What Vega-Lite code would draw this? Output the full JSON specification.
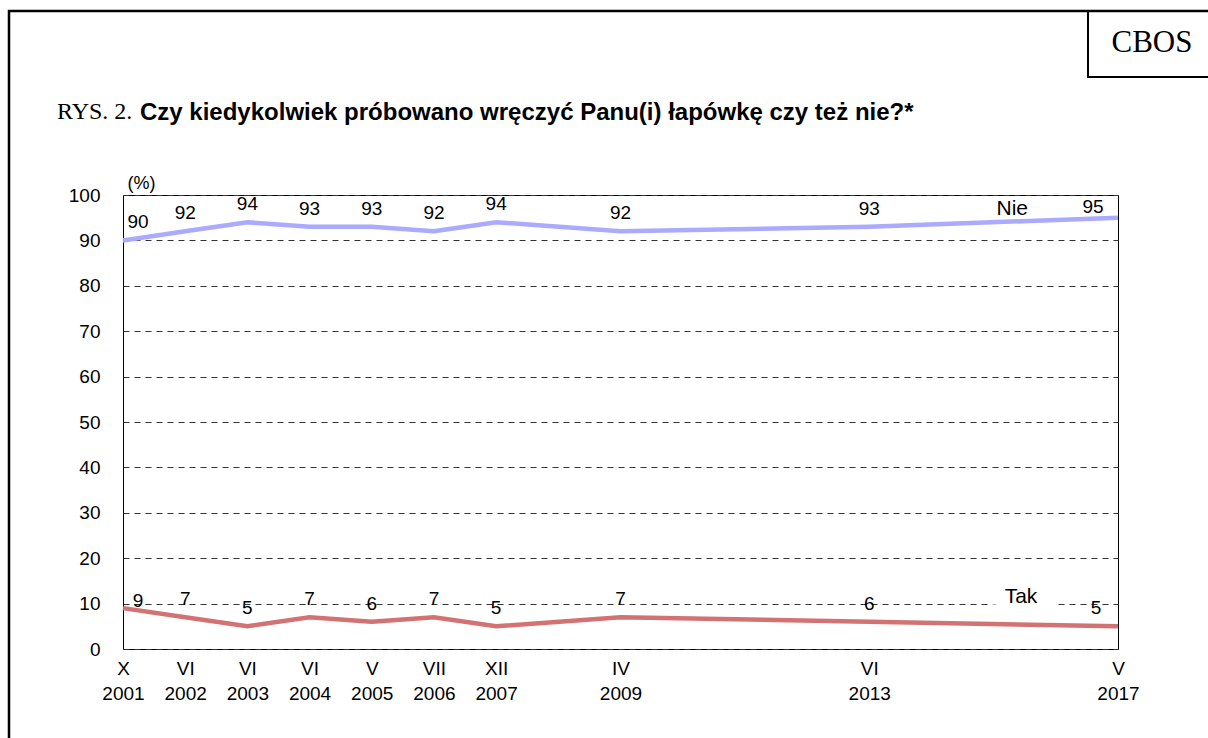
{
  "$schema": "https://vega.github.io/schema/vega-lite/v6.json",
  "width": 995,
  "height": 454,
  "autosize": "none",
  "padding": {"left": 123, "top": 195, "right": 90, "bottom": 89},
  "background": "white",
  "config": {
    "view": {"stroke": "#000", "strokeWidth": 1},
    "font": "Liberation Sans"
  },
  "datasets": {
    "main": [
      {"i": 0, "series": "Nie", "value": 90},
      {"i": 1, "series": "Nie", "value": 92},
      {"i": 2, "series": "Nie", "value": 94},
      {"i": 3, "series": "Nie", "value": 93},
      {"i": 4, "series": "Nie", "value": 93},
      {"i": 5, "series": "Nie", "value": 92},
      {"i": 6, "series": "Nie", "value": 94},
      {"i": 8, "series": "Nie", "value": 92},
      {"i": 12, "series": "Nie", "value": 93},
      {"i": 16, "series": "Nie", "value": 95},
      {"i": 0, "series": "Tak", "value": 9},
      {"i": 1, "series": "Tak", "value": 7},
      {"i": 2, "series": "Tak", "value": 5},
      {"i": 3, "series": "Tak", "value": 7},
      {"i": 4, "series": "Tak", "value": 6},
      {"i": 5, "series": "Tak", "value": 7},
      {"i": 6, "series": "Tak", "value": 5},
      {"i": 8, "series": "Tak", "value": 7},
      {"i": 12, "series": "Tak", "value": 6},
      {"i": 16, "series": "Tak", "value": 5}
    ],
    "serieslabels": [
      {"series": "Nie", "i": 14.3, "value": 96.9},
      {"series": "Tak", "i": 14.44, "value": 11.5}
    ]
  },
  "layer": [
    {
      "data": {"values": [{}]},
      "mark": {"type": "rect", "fill": null, "stroke": "#000", "strokeWidth": 2.5},
      "encoding": {
        "x": {"value": -114}, "x2": {"value": 1100},
        "y": {"value": -184}, "y2": {"value": 560}
      }
    },
    {
      "data": {"values": [{}]},
      "mark": {"type": "rect", "fill": null, "stroke": "#000", "strokeWidth": 2},
      "encoding": {
        "x": {"value": 965}, "x2": {"value": 1100},
        "y": {"value": -184}, "y2": {"value": -118}
      }
    },
    {
      "data": {"values": [{}]},
      "mark": {"type": "text", "text": "CBOS", "font": "Liberation Serif", "fontSize": 31, "align": "center", "baseline": "middle", "color": "#000"},
      "encoding": {"x": {"value": 1029}, "y": {"value": -152}}
    },
    {
      "data": {"values": [{}]},
      "mark": {"type": "text", "text": "RYS. 2.", "font": "Liberation Serif", "fontSize": 24, "align": "left", "baseline": "middle", "color": "#000"},
      "encoding": {"x": {"value": -66}, "y": {"value": -83}}
    },
    {
      "data": {"values": [{}]},
      "mark": {"type": "text", "text": "Czy kiedykolwiek próbowano wręczyć Panu(i) łapówkę czy też nie?*", "font": "Liberation Sans", "fontWeight": "bold", "fontSize": 24, "align": "left", "baseline": "middle", "color": "#000"},
      "encoding": {"x": {"value": 17}, "y": {"value": -82}}
    },
    {
      "data": {"name": "serieslabels"},
      "transform": [{"filter": "datum.series == 'Tak'"}],
      "mark": {"type": "text", "fontSize": 21, "baseline": "middle", "color": "#fff", "stroke": "#fff", "strokeWidth": 28},
      "encoding": {
        "x": {"field": "i", "type": "quantitative"},
        "y": {"field": "value", "type": "quantitative"},
        "text": {"field": "series", "type": "nominal"}
      }
    },
    {
      "data": {"name": "main"},
      "mark": {"type": "line", "strokeWidth": 4.5, "strokeCap": "butt"},
      "encoding": {
        "x": {
          "field": "i", "type": "quantitative",
          "scale": {"domain": [0, 16], "nice": false, "zero": false},
          "axis": {
            "title": null,
            "values": [0, 1, 2, 3, 4, 5, 6, 8, 12, 16],
            "labelExpr": "split(['X|2001','VI|2002','VI|2003','VI|2004','V|2005','VII|2006','XII|2007','','IV|2009','','','','VI|2013','','','','V|2017'][datum.value], '|')",
            "grid": false, "ticks": false, "domain": false,
            "labelFontSize": 19, "labelColor": "#000", "labelFont": "Liberation Sans",
            "labelPadding": 10, "labelLineHeight": 25,
            "labelFlush": false, "labelOverlap": false, "labelBound": false
          }
        },
        "y": {
          "field": "value", "type": "quantitative",
          "scale": {"domain": [0, 100], "nice": false},
          "axis": {
            "title": "(%)", "titleAngle": 0, "titleX": 18, "titleY": -12,
            "titleAlign": "center", "titleBaseline": "middle",
            "titleFontSize": 18, "titleFontWeight": "normal", "titleFont": "Liberation Sans", "titleColor": "#000",
            "values": [0, 10, 20, 30, 40, 50, 60, 70, 80, 90, 100],
            "grid": true, "gridDash": [6, 5], "gridColor": "#333", "gridWidth": 1,
            "ticks": false, "domain": false,
            "labelFontSize": 19, "labelColor": "#000", "labelFont": "Liberation Sans",
            "labelPadding": 23
          }
        },
        "color": {
          "field": "series", "type": "nominal",
          "scale": {"domain": ["Nie", "Tak"], "range": ["#aaaaff", "#d27272"]},
          "legend": null
        }
      }
    },
    {
      "data": {"name": "main"},
      "transform": [{"filter": "datum.i > 0 && datum.i < 16"}],
      "mark": {"type": "text", "fontSize": 19, "baseline": "middle", "dy": -18, "color": "#000"},
      "encoding": {
        "x": {"field": "i", "type": "quantitative"},
        "y": {"field": "value", "type": "quantitative"},
        "text": {"field": "value", "type": "quantitative"}
      }
    },
    {
      "data": {"name": "main"},
      "transform": [{"filter": "datum.i == 0 && datum.series == 'Nie'"}],
      "mark": {"type": "text", "fontSize": 19, "baseline": "middle", "dx": 15, "dy": -18, "color": "#000"},
      "encoding": {
        "x": {"field": "i", "type": "quantitative"},
        "y": {"field": "value", "type": "quantitative"},
        "text": {"field": "value", "type": "quantitative"}
      }
    },
    {
      "data": {"name": "main"},
      "transform": [{"filter": "datum.i == 0 && datum.series == 'Tak'"}],
      "mark": {"type": "text", "fontSize": 19, "baseline": "middle", "dx": 15, "dy": -7, "color": "#000"},
      "encoding": {
        "x": {"field": "i", "type": "quantitative"},
        "y": {"field": "value", "type": "quantitative"},
        "text": {"field": "value", "type": "quantitative"}
      }
    },
    {
      "data": {"name": "main"},
      "transform": [{"filter": "datum.i == 16 && datum.series == 'Nie'"}],
      "mark": {"type": "text", "fontSize": 19, "baseline": "middle", "dx": -25, "dy": -11, "color": "#000"},
      "encoding": {
        "x": {"field": "i", "type": "quantitative"},
        "y": {"field": "value", "type": "quantitative"},
        "text": {"field": "value", "type": "quantitative"}
      }
    },
    {
      "data": {"name": "main"},
      "transform": [{"filter": "datum.i == 16 && datum.series == 'Tak'"}],
      "mark": {"type": "text", "fontSize": 19, "baseline": "middle", "dx": -22, "dy": -18, "color": "#000"},
      "encoding": {
        "x": {"field": "i", "type": "quantitative"},
        "y": {"field": "value", "type": "quantitative"},
        "text": {"field": "value", "type": "quantitative"}
      }
    },
    {
      "data": {"name": "serieslabels"},
      "mark": {"type": "text", "fontSize": 21, "baseline": "middle", "color": "#000"},
      "encoding": {
        "x": {"field": "i", "type": "quantitative"},
        "y": {"field": "value", "type": "quantitative"},
        "text": {"field": "series", "type": "nominal"}
      }
    }
  ]
}
